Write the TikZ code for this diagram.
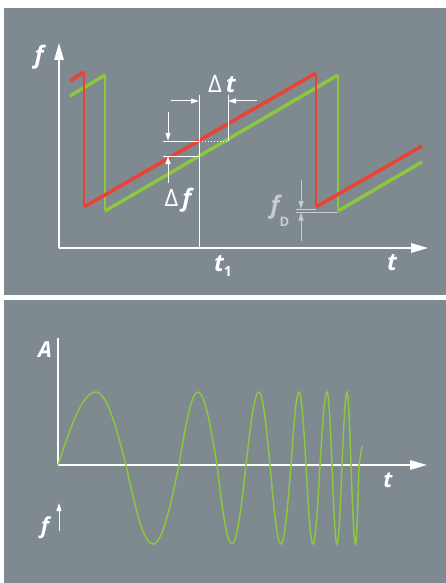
\documentclass[tikz,border=0pt]{standalone}
\usepackage{fontspec}
\setmainfont{Open Sans}
\usetikzlibrary{arrows.meta}

\definecolor{panelgray}{RGB}{126,137,144}
\definecolor{sweepred}{RGB}{236,66,52}
\definecolor{echogreen}{RGB}{141,198,63}
\definecolor{dopgray}{RGB}{200,204,207}

\begin{document}
\begin{tikzpicture}[
    x=1pt, y=-1pt,
    >={Triangle[length=17pt,width=9.5pt]},
    every node/.style={text=white, inner sep=0pt,
        font=\fontsize{24}{24}\selectfont\bfseries\itshape},
    small/.style={font=\fontsize{22}{22}\selectfont\bfseries\itshape},
    panel/.style={fill=panelgray, draw=none},
    axis/.style={draw=white, line width=1.4pt},
    dimline/.style={draw=white, line width=1pt},
    dimarr/.style={draw=white, line width=1pt,
        -{Triangle[length=8pt,width=5pt]}},
    ramp/.style={line width=3.5pt},
    flyback/.style={line width=2pt},
    wave/.style={draw=echogreen, line width=1.5pt}
]

    \useasboundingbox (0,0) rectangle (446,583);

    % Panels
    \fill[white] (0,0) rectangle (446,583);
    \fill[panel] (4,8) rectangle (446,295);
    \fill[panel] (4,300) rectangle (446,583);

    % ---------- upper panel: f over t ----------
    \coordinate (o1) at (59,248);
    \coordinate (fup) at (59,43);
    \coordinate (tright) at (428,248);
    \draw[axis,->] (o1) -- (fup);
    \draw[axis,->] (o1) -- (tright);

    \node (flabel) at (39,57) {f};
    \node (tlabel) at (392,263) {t};
    \node (t1label) at (223,266) {t\raisebox{-0.4ex}{\fontsize{14}{14}\selectfont\upshape 1}};

    % Received signal (green)
    \draw[echogreen, ramp] (70,96) -- (105,75);
    \draw[echogreen, flyback] (105,75) -- (105,211);
    \draw[echogreen, ramp] (105,211) -- (338,75);
    \draw[echogreen, flyback] (338,75) -- (338,211);
    \draw[echogreen, ramp] (338,211) -- (422,162);

    % Transmitted signal (red)
    \draw[sweepred, ramp] (70,81) -- (84,72);
    \draw[sweepred, flyback] (84,72) -- (84,207);
    \draw[sweepred, ramp] (84,207) -- (316,73);
    \draw[sweepred, flyback] (316,73) -- (316,207);
    \draw[sweepred, ramp] (316,207) -- (422,146);

    % Delta t
    \coordinate (t1top) at (199,95);
    \coordinate (t1bot) at (199,248);
    \coordinate (t2top) at (228,95);
    \coordinate (t2bot) at (228,141);
    \draw[dimline] (t1top) -- (t1bot);
    \draw[dimline] (t2top) -- (t2bot);
    \draw[dimline] (163,141) -- (199,141);
    \draw[dimline, dotted] (199,141) -- (t2bot);
    \draw[dimline] (163,156) -- (199,156);
    \draw[dimarr] (171,101) -- (199,101);
    \draw[dimarr] (257,101) -- (228,101);
    \node (dtlabel) at (222,84) {{\fontseries{l}\upshape Δ}\,t};

    % Delta f
    \draw[dimarr] (168,112) -- (168,141);
    \draw[dimarr] (168,183) -- (168,156);
    \node (dflabel) at (178,200) {{\fontseries{l}\upshape Δ}\,f};

    % Doppler shift f_D
    \draw[dopgray, line width=1pt] (296,209) -- (316,209);
    \draw[dopgray, line width=1pt] (296,212.5) -- (338,212.5);
    \draw[dopgray, line width=1pt, -{Triangle[length=8pt,width=5pt]}] (301,180) -- (301,209);
    \draw[dopgray, line width=1pt, -{Triangle[length=8pt,width=5pt]}] (301,241) -- (301,212.5);
    \node[text=dopgray] (fdlabel) at (280,211)
        {f\raisebox{-1.0ex}{\fontsize{13}{13}\selectfont\upshape D}};

    % ---------- lower panel: A over t ----------
    \coordinate (o2) at (58,465);
    \coordinate (aup) at (58,338);
    \coordinate (tright2) at (427,465);
    \draw[axis] (o2) -- (aup);
    \draw[axis,->] (o2) -- (tright2);

    \node[small] (alabel) at (45,350) {A};
    \node[small] (tlabel2) at (388,480) {t};
    \node[small] (flabel2) at (45,528) {f};
    \coordinate (fa) at (59,531);
    \coordinate (fb) at (59,503);
    \draw[dimarr] (fa) -- (fb);

    % Chirp
    \draw[wave] (58,465) sin (96,392) cos (126,465) sin (153,544) cos (179,465)
        sin (198,392) cos (217,465) sin (232,544) cos (246,465)
        sin (259,392) cos (270,465) sin (281,544) cos (291,465)
        sin (299,392) cos (306,465) sin (313,544) cos (320,465)
        sin (327,392) cos (332,465) sin (337,544) cos (342,465)
        sin (347,392) cos (351,465) sin (355.5,544) cos (359,465)
        -- (362,446);

\end{tikzpicture}
\end{document}
